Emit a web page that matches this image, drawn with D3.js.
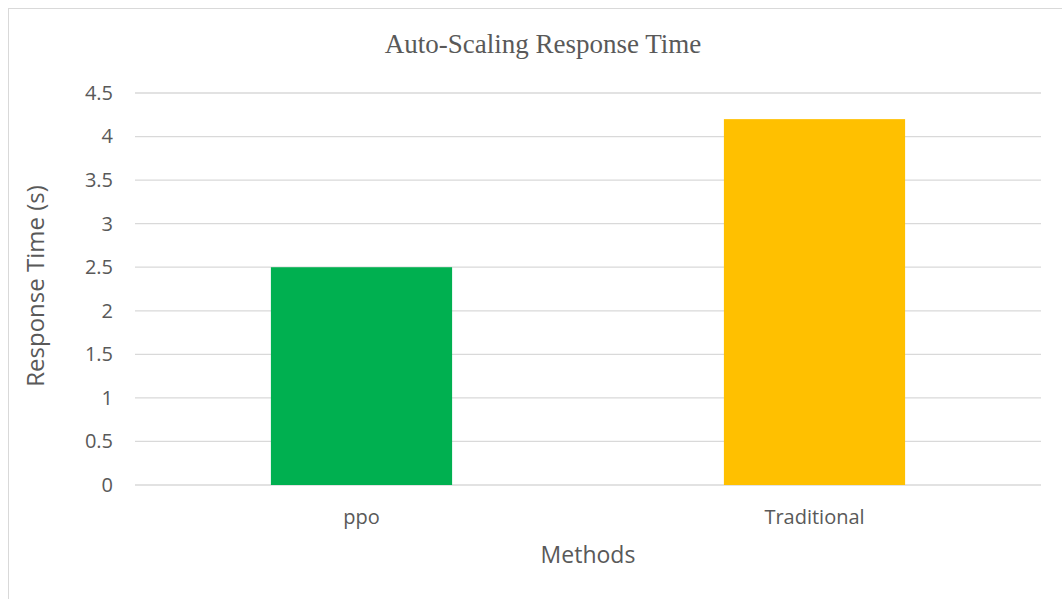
<!DOCTYPE html>
<html lang="en">
<head>
	<meta charset="UTF-8">
	<title>Auto-Scaling Response Time</title>
	<script src="https://cdn.jsdelivr.net/npm/d3@7"></script>
	<style>
		body {
			margin: 0;
			background-color: #ffffff;
		}
		.tick text {
			font-family: "Open Sans", sans-serif;
			font-size: 20px;
			fill: #595959;
		}
		.grid line {
			stroke: #d9d9d9;
			stroke-width: 1.3px;
		}
		.label {
			font-family: "Open Sans", sans-serif;
			fill: #595959;
		}
	</style>
</head>
<body>
<script>

	var methods = ['ppo', 'Traditional'];
	var responseTimes = [2.5, 4.2];
	var barColors = ['#00b050', '#ffc000'];
	var yTicks = [0, 0.5, 1, 1.5, 2, 2.5, 3, 3.5, 4, 4.5];

	var W = 1062, H = 599;
	var plot = {left: 135, right: 1041, top: 93, bottom: 485};

	var svg = d3.select('body').append('svg')
		.attr('width', W)
		.attr('height', H);

	// chart frame
	svg.append('rect')
		.attr('x', 8.5)
		.attr('y', 8.5)
		.attr('width', 1080)
		.attr('height', 620)
		.style('fill', 'none')
		.style('stroke', '#d9d9d9')
		.style('stroke-width', 1);

	var x = d3.scaleBand()
		.domain(methods)
		.range([plot.left, plot.right])
		.paddingInner(0.6)
		.paddingOuter(0.3);

	var y = d3.scaleLinear()
		.domain([0, 4.5])
		.range([plot.bottom, plot.top]);

	// gridlines
	svg.append('g')
		.attr('class', 'grid')
		.selectAll('line')
		.data(yTicks)
		.enter()
		.append('line')
		.attr('x1', plot.left)
		.attr('x2', plot.right)
		.attr('y1', function (d) { return y(d); })
		.attr('y2', function (d) { return y(d); });

	// y axis labels
	var yAxis = svg.append('g')
		.attr('transform', 'translate(' + (plot.left - 10) + ',0)')
		.call(d3.axisLeft(y).tickValues(yTicks).tickSize(0).tickPadding(12).tickFormat(d3.format('')));
	yAxis.select('.domain').remove();

	// bars
	svg.selectAll('.bar')
		.data(methods)
		.enter()
		.append('rect')
		.attr('class', 'bar')
		.attr('x', function (d) { return x(d); })
		.attr('width', x.bandwidth())
		.attr('y', function (d, i) { return y(responseTimes[i]); })
		.attr('height', function (d, i) { return y(0) - y(responseTimes[i]); })
		.style('fill', function (d, i) { return barColors[i]; });

	// x axis labels
	var xAxis = svg.append('g')
		.attr('transform', 'translate(0,' + plot.bottom + ')')
		.call(d3.axisBottom(x).tickSize(0).tickPadding(25));
	xAxis.select('.domain').remove();

	// title
	svg.append('text')
		.attr('x', 543)
		.attr('y', 53)
		.style('text-anchor', 'middle')
		.style('font-family', '"Liberation Serif", "Times New Roman", serif')
		.style('font-size', '27px')
		.style('fill', '#595959')
		.text('Auto-Scaling Response Time');

	// axis titles
	svg.append('text')
		.attr('class', 'label')
		.attr('transform', 'translate(44,286) rotate(-90)')
		.style('text-anchor', 'middle')
		.style('font-size', '24px')
		.text('Response Time (s)');

	svg.append('text')
		.attr('class', 'label')
		.attr('x', 588)
		.attr('y', 563)
		.style('text-anchor', 'middle')
		.style('font-size', '23px')
		.text('Methods');

</script>
</body>
</html>
